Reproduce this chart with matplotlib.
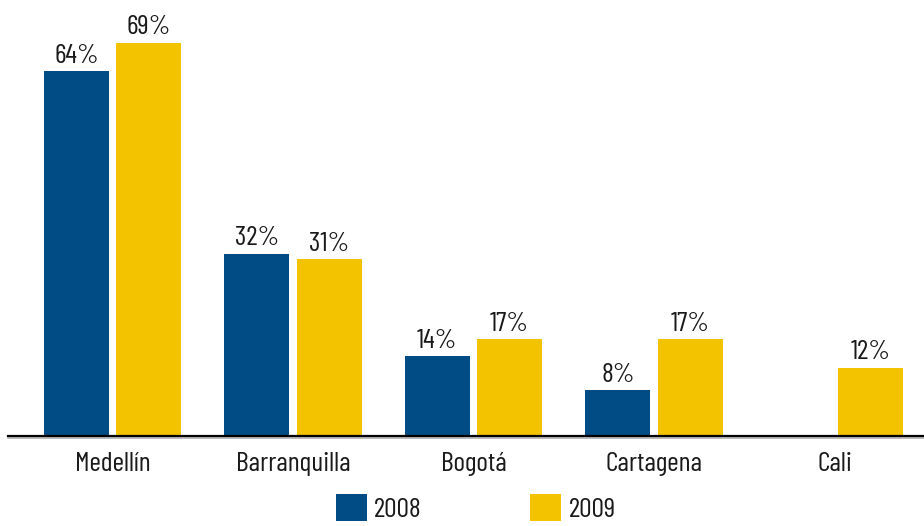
import numpy as np
import matplotlib
matplotlib.use("Agg")
import matplotlib.pyplot as plt
from matplotlib.patches import Patch

plt.rcParams['font.family'] = ['Barlow Condensed', 'Archivo Narrow', 'Liberation Sans Narrow', 'DejaVu Sans']

# datos
ciudades = ["Medellín", "Barranquilla", "Bogotá", "Cartagena", "Cali"]
v2008 = [64, 32, 14, 8, None]
v2009 = [69, 31, 17, 17, 12]
anios = ["2008", "2009"]

AZUL = "#024C86"
AMARILLO = "#F4C300"
TXT = "#1a1a1a"
FS = 20

fig = plt.figure(figsize=(9.24, 5.26), dpi=100)
ax = fig.add_axes([8 / 924, 90 / 526, 916 / 924, 427.5 / 526])

x = np.arange(len(ciudades))
w = 0.36
off = 0.2

for xi, v in zip(x, v2008):
    if v is None:
        continue
    ax.bar(xi - off, v, width=w, color=AZUL)
    ax.annotate(f"{v}%", (xi - off, v), xytext=(0, 2.5), textcoords="offset points",
                ha="center", va="bottom", fontsize=FS, color=TXT)

for xi, v in zip(x, v2009):
    ax.bar(xi + off, v, width=w, color=AMARILLO)
    ax.annotate(f"{v}%", (xi + off, v), xytext=(0, 2.5), textcoords="offset points",
                ha="center", va="bottom", fontsize=FS, color=TXT)

ax.set_xlim(-0.579, 4.496)
ax.set_ylim(0, 75)
ax.set_xticks(x)
ax.set_xticklabels(ciudades, fontsize=FS, color=TXT)
ax.tick_params(axis="x", length=0, pad=11.5)
ax.set_yticks([])
for s in ["top", "right", "left"]:
    ax.spines[s].set_visible(False)
ax.spines["bottom"].set_color("black")
ax.spines["bottom"].set_linewidth(1.6)
ax.spines["bottom"].set_zorder(5)
# sombra gris bajo el eje
ax.axhline(-0.35, color="#b0b0b0", lw=1.2, clip_on=False, zorder=4)

handles = [Patch(facecolor=AZUL, label=anios[0]), Patch(facecolor=AMARILLO, label=anios[1])]
leg = fig.legend(handles=handles, loc="upper left", bbox_to_anchor=(336 / 924, 1 - 494 / 526),
                 ncol=2, frameon=False, fontsize=FS, handlelength=1.12, handleheight=1.12,
                 handletextpad=0.26, columnspacing=3.9, borderpad=0, borderaxespad=0)
for t in leg.get_texts():
    t.set_color(TXT)

fig.savefig("out.png", dpi=100)
